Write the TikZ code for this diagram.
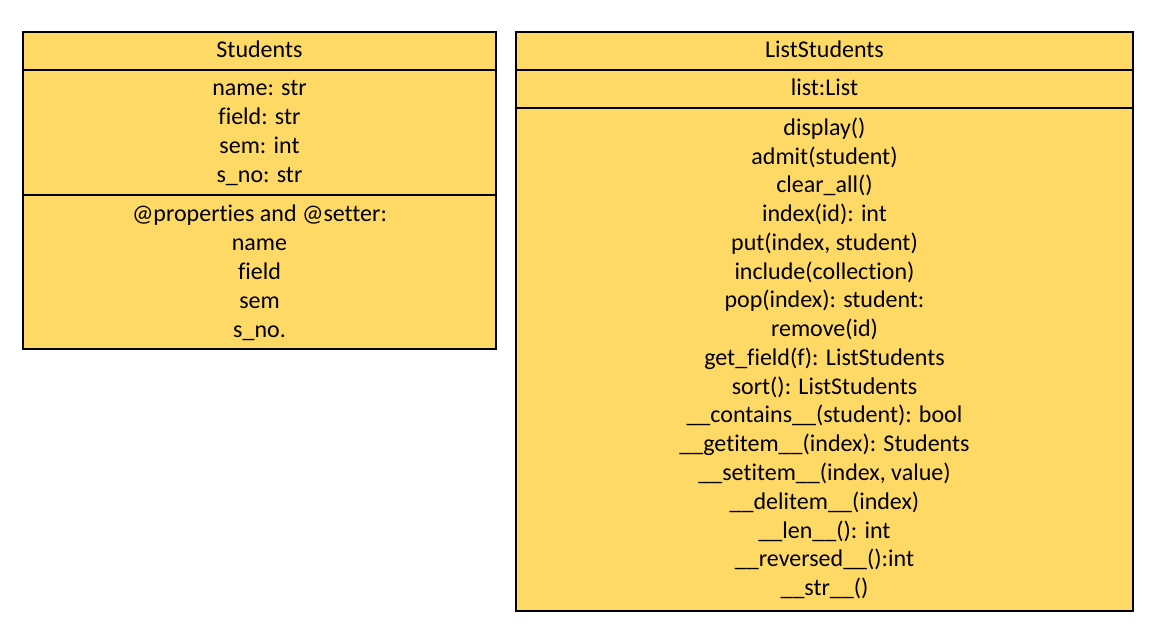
\documentclass[tikz,border=0pt]{standalone}
\usepackage{fontspec}
\setmainfont[Ligatures=NoCommon]{Carlito}
\definecolor{umlfill}{HTML}{FFD966}
\begin{document}
\begin{tikzpicture}[x=0.75pt,y=-0.75pt,
  box/.style={draw=black,fill=umlfill,line width=0.9pt},
  sep/.style={draw=black,line width=0.9pt},
  txt/.style={inner sep=0pt,font=\fontsize{18}{21}\selectfont,anchor=base}]
\useasboundingbox[fill=white] (0,0) rectangle (1158,640);
% Students
\draw[box] (23,32) rectangle (496,349);
\draw[sep] (23,70) -- (496,70);
\draw[sep] (23,195) -- (496,195);
\def\cx{259.5}
\node[txt] (st) at (\cx,57) {Students};
\node[txt] (a1) at (\cx,95) {name: str};
\node[txt] (a2) at (\cx,124) {field: str};
\node[txt] (a3) at (\cx,153) {sem: int};
\node[txt] (a4) at (\cx,182) {s\_no: str};
\node[txt] (m1) at (\cx,221) {@properties and @setter:};
\node[txt] (m2) at (\cx,250) {name};
\node[txt] (m3) at (\cx,279) {field};
\node[txt] (m4) at (\cx,308) {sem};
\node[txt] (m5) at (\cx,337) {s\_no.};
% ListStudents
\draw[box] (516,32) rectangle (1133,611);
\draw[sep] (516,70) -- (1133,70);
\draw[sep] (516,108) -- (1133,108);
\def\dx{824.5}
\node[txt] (ls) at (\dx,57) {ListStudents};
\node[txt] (l1) at (\dx,95) {list:List};
\node[txt] (f1) at (\dx,135) {display()};
\node[txt] (f2) at (\dx,164) {admit(student)};
\node[txt] (f3) at (\dx,192) {clear\_all()};
\node[txt] (f4) at (\dx,221) {index(id): int};
\node[txt] (f5) at (\dx,250) {put(index, student)};
\node[txt] (f6) at (\dx,279) {include(collection)};
\node[txt] (f7) at (\dx,307) {pop(index): student:};
\node[txt] (f8) at (\dx,336) {remove(id)};
\node[txt] (f9) at (\dx,365) {get\_field(f): ListStudents};
\node[txt] (f10) at (\dx,394) {sort(): ListStudents};
\node[txt] (f11) at (\dx,422) {\_\_contains\_\_(student): bool};
\node[txt] (f12) at (\dx,451) {\_\_getitem\_\_(index): Students};
\node[txt] (f13) at (\dx,480) {\_\_setitem\_\_(index, value)};
\node[txt] (f14) at (\dx,509) {\_\_delitem\_\_(index)};
\node[txt] (f15) at (\dx,538) {\_\_len\_\_(): int};
\node[txt] (f16) at (\dx,566) {\_\_reversed\_\_():int};
\node[txt] (f17) at (\dx,595) {\_\_str\_\_()};
\end{tikzpicture}
\end{document}
